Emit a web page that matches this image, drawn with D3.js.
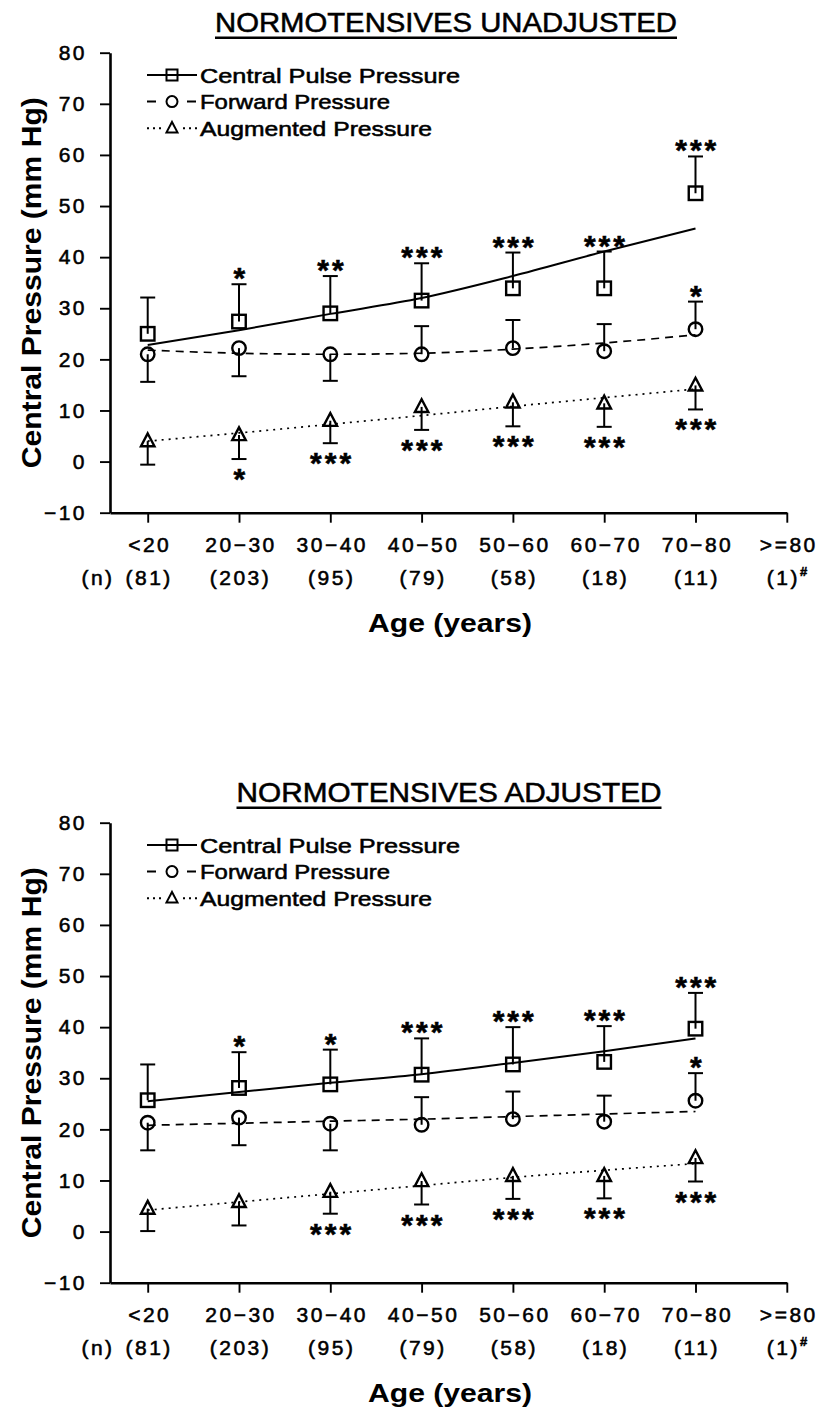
<!DOCTYPE html>
<html>
<head>
<meta charset="utf-8">
<script src="https://cdn.jsdelivr.net/npm/d3@7"></script>
<style>
  html, body { margin: 0; padding: 0; background: #fff; }
  svg { display: block; }
  text { font-family: "Liberation Sans", Arial, Helvetica, sans-serif; fill: #000; }
  .heavy { stroke: #000; stroke-width: 0.55px; }
</style>
</head>
<body>
<svg id="chart" width="818" height="1409"></svg>
<script>
// ---- categories and tick labels ----
const ageGroups = ["<20", "20\u221230", "30\u221240", "40\u221250", "50\u221260", "60\u221270", "70\u221280", ">=80"];
const groupN = ["81", "203", "95", "79", "58", "18", "11", "1"];
const yTickValues = [-10, 0, 10, 20, 30, 40, 50, 60, 70, 80];
const seriesNames = ["Central Pulse Pressure", "Forward Pressure", "Augmented Pressure"];
const panelTitles = ["NORMOTENSIVES UNADJUSTED", "NORMOTENSIVES ADJUSTED"];

// ---- unadjusted values (mm Hg), one per age group below 80 ----
const unadjCppMean = [25.0, 27.4, 29.0, 31.5, 33.9, 33.9, 52.5];
const unadjCppSD   = [7.1, 7.3, 7.3, 7.3, 7.0, 7.2, 7.2];
const unadjCppFit  = [22.8, 25.7, 28.9, 32.0, 36.3, 41.1, 45.6];
const unadjCppSig  = ["", "*", "**", "***", "***", "***", "***"];

const unadjFpMean = [21.0, 22.2, 21.0, 21.0, 22.2, 21.6, 25.9];
const unadjFpSD   = [5.4, 5.5, 5.2, 5.5, 5.5, 5.3, 5.4];
const unadjFpFit  = [21.8, 21.2, 21.0, 21.2, 22.0, 23.2, 24.8];
const unadjFpSig  = ["", "", "", "", "", "", "*"];

const unadjApMean = [4.0, 5.2, 8.0, 10.7, 11.6, 11.4, 14.9];
const unadjApSD   = [4.6, 4.7, 4.4, 4.5, 4.7, 4.6, 4.7];
const unadjApFit  = [4.0, 5.6, 7.3, 9.0, 10.8, 12.5, 14.2];
const unadjApSig  = ["", "*", "***", "***", "***", "***", "***"];

// ---- adjusted values (mm Hg) ----
const adjCppMean = [25.7, 28.1, 28.8, 30.7, 32.7, 33.2, 39.7];
const adjCppSD   = [7.0, 7.0, 6.8, 7.1, 7.3, 7.0, 7.0];
const adjCppFit  = [25.5, 27.3, 29.1, 30.8, 33.0, 35.3, 37.8];
const adjCppSig  = ["", "*", "*", "***", "***", "***", "***"];

const adjFpMean = [21.3, 22.3, 21.1, 20.9, 22.0, 21.5, 25.6];
const adjFpSD   = [5.4, 5.4, 5.2, 5.4, 5.4, 5.1, 5.4];
const adjFpFit  = [20.8, 21.2, 21.6, 22.0, 22.5, 23.0, 23.5];
const adjFpSig  = ["", "", "", "", "", "", "*"];

const adjApMean = [4.5, 5.8, 7.8, 9.9, 10.9, 10.9, 14.4];
const adjApSD   = [4.4, 4.6, 4.3, 4.6, 4.5, 4.4, 4.6];
const adjApFit  = [4.2, 5.8, 7.4, 9.0, 10.6, 12.0, 13.3];
const adjApSig  = ["", "", "***", "***", "***", "***", "***"];

// side of the mean on which each SD bar is drawn (+1 above, -1 below)
const cppBarSide = [1, 1, 1, 1, 1, 1, 1];
const fpBarSide  = [-1, -1, -1, 1, 1, 1, 1];
const apBarSide  = [-1, -1, -1, -1, -1, -1, -1];

// ---- drawing ----
const svg = d3.select("#chart");
svg.append("rect").attr("width", 818).attr("height", 1409).attr("fill", "#fff");

const markerStyles = [
  { shape: "square",   dash: null,  width: 2.0 },
  { shape: "circle",   dash: "8,6", width: 1.7 },
  { shape: "triangle", dash: "2,5", width: 1.7 }
];

function drawMarker(g, shape, cx, cy, s, sw) {
  if (shape === "square") {
    g.append("rect").attr("x", cx - s / 2).attr("y", cy - s / 2)
      .attr("width", s).attr("height", s)
      .attr("fill", "none").attr("stroke", "#000").attr("stroke-width", sw);
  } else if (shape === "circle") {
    g.append("circle").attr("cx", cx).attr("cy", cy).attr("r", s / 2)
      .attr("fill", "none").attr("stroke", "#000").attr("stroke-width", sw);
  } else {
    const h = s * 0.95;
    g.append("path")
      .attr("d", `M${cx},${cy - h * 0.6}L${cx + s / 2},${cy + h * 0.4}L${cx - s / 2},${cy + h * 0.4}Z`)
      .attr("fill", "none").attr("stroke", "#000").attr("stroke-width", sw)
      .attr("stroke-linejoin", "miter");
  }
}

function drawPanel(top, cfg) {
  const g = svg.append("g");
  const x = d3.scaleLinear().domain([-0.413, 7]).range([110, 786.8]);
  const y = d3.scaleLinear().domain([-10, 80]).range([top + 460, top]);

  // title with underline
  g.append("text").attr("class", "heavy")
    .attr("x", cfg.titleX).attr("y", top - 21)
    .attr("text-anchor", "middle")
    .attr("font-size", 28)
    .attr("textLength", cfg.titleW).attr("lengthAdjust", "spacingAndGlyphs")
    .text(cfg.title);
  g.append("line")
    .attr("x1", cfg.titleX - cfg.titleW / 2).attr("x2", cfg.titleX + cfg.titleW / 2)
    .attr("y1", top - 15).attr("y2", top - 15)
    .attr("stroke", "#000").attr("stroke-width", 2.4);

  // y axis
  const yAxis = g.append("g").attr("transform", "translate(110,0)")
    .call(d3.axisLeft(y).tickValues(yTickValues).tickSize(10).tickSizeOuter(0).tickPadding(13)
      .tickFormat(d => d3.format("d")(d)));
  yAxis.select(".domain").attr("stroke-width", 2.6);
  yAxis.selectAll(".tick line").attr("stroke-width", 1.9);
  yAxis.selectAll(".tick text").attr("class", "heavy")
    .attr("font-size", 21).attr("letter-spacing", 2.5)
    .attr("font-family", "Liberation Sans, Arial, sans-serif");

  // x axis
  const xAxis = g.append("g").attr("transform", `translate(0,${top + 460})`)
    .call(d3.axisBottom(x).tickValues(d3.range(8)).tickSize(10).tickSizeOuter(0).tickPadding(14)
      .tickFormat(i => ageGroups[i]));
  xAxis.select(".domain").attr("stroke-width", 2.6);
  xAxis.selectAll(".tick line").attr("stroke-width", 1.9);
  xAxis.selectAll(".tick text").attr("class", "heavy")
    .attr("font-size", 21).attr("letter-spacing", 2.5).attr("dx", 1.5)
    .attr("font-family", "Liberation Sans, Arial, sans-serif");

  // group sizes
  const nRow = g.append("g").attr("font-size", 21).attr("letter-spacing", 2.5);
  nRow.append("text").attr("class", "heavy").attr("x", 98).attr("y", top + 532)
    .attr("text-anchor", "middle").text("(n)");
  groupN.forEach((n, i) => {
    const t = nRow.append("text").attr("class", "heavy").attr("x", x(i) + 1.5).attr("y", top + 532)
      .attr("text-anchor", "middle");
    t.append("tspan").text(`(${n})`);
    if (i === groupN.length - 1) {
      t.append("tspan").attr("font-size", 13).attr("dy", -9).attr("font-weight", "bold").text("#");
    }
  });

  // axis titles
  g.append("text")
    .attr("x", 450).attr("y", top + 579)
    .attr("text-anchor", "middle").attr("font-weight", "bold").attr("font-size", 26)
    .attr("textLength", 164).attr("lengthAdjust", "spacingAndGlyphs")
    .text("Age (years)");
  g.append("text")
    .attr("transform", `translate(41,${top + 230}) rotate(-90)`)
    .attr("text-anchor", "middle").attr("font-weight", "bold").attr("font-size", 28)
    .attr("textLength", 371).attr("lengthAdjust", "spacingAndGlyphs")
    .text("Central Pressure (mm Hg)");

  // legend
  const lg = g.append("g");
  seriesNames.forEach((name, k) => {
    const cy = top + 22.3 + k * 26.6;
    const st = markerStyles[k];
    const ln = lg.append("line").attr("x1", 147).attr("x2", 197).attr("y1", cy).attr("y2", cy)
      .attr("stroke", "#000").attr("stroke-width", 2);
    if (k === 1) ln.attr("stroke-dasharray", "9,11");
    if (k === 2) ln.attr("stroke-dasharray", "2,4");
    if (k !== 0) {
      // clear the line behind the open marker
      lg.append("rect").attr("x", 164).attr("y", cy - 7).attr("width", 16).attr("height", 14).attr("fill", "#fff");
    }
    drawMarker(lg, st.shape, 172, cy, 11, 2);
    lg.append("text").attr("class", "heavy").attr("x", 200).attr("y", cy + 7.5)
      .attr("font-size", 21)
      .attr("textLength", cfg.legendW[k]).attr("lengthAdjust", "spacingAndGlyphs")
      .text(name);
  });

  const series = [
    { mean: cfg.cppMean, sd: cfg.cppSD, fit: cfg.cppFit, sig: cfg.cppSig, side: cppBarSide },
    { mean: cfg.fpMean,  sd: cfg.fpSD,  fit: cfg.fpFit,  sig: cfg.fpSig,  side: fpBarSide },
    { mean: cfg.apMean,  sd: cfg.apSD,  fit: cfg.apFit,  sig: cfg.apSig,  side: apBarSide }
  ];

  // fitted trend lines
  const line = d3.line().x((d, i) => x(i)).y(d => y(d)).curve(d3.curveMonotoneX);
  series.forEach((s, k) => {
    const p = g.append("path").attr("d", line(s.fit))
      .attr("fill", "none").attr("stroke", "#000")
      .attr("stroke-width", markerStyles[k].width);
    if (markerStyles[k].dash) p.attr("stroke-dasharray", markerStyles[k].dash);
  });

  // SD bars, markers and significance stars
  series.forEach((s, k) => {
    s.mean.forEach((m, i) => {
      const cx = x(i);
      const end = m + s.side[i] * s.sd[i];
      g.append("line").attr("x1", cx).attr("x2", cx)
        .attr("y1", y(m)).attr("y2", y(end))
        .attr("stroke", "#000").attr("stroke-width", 2);
      g.append("line").attr("x1", cx - 7.5).attr("x2", cx + 7.5)
        .attr("y1", y(end)).attr("y2", y(end))
        .attr("stroke", "#000").attr("stroke-width", 2);
      drawMarker(g, markerStyles[k].shape, cx, y(m), 13.5, 2.4);
      if (s.sig[i]) {
        const starCenter = y(end) - s.side[i] * 13;
        g.append("text").attr("class", "heavy")
          .attr("x", cx + 1.75).attr("y", starCenter + 17)
          .attr("text-anchor", "middle")
          .attr("font-size", 30).attr("font-weight", "bold").attr("letter-spacing", 3)
          .text(s.sig[i]);
      }
    });
  });
}

drawPanel(52.7, {
  title: panelTitles[0], titleX: 446, titleW: 462, legendW: [260, 190, 232],
  cppMean: unadjCppMean, cppSD: unadjCppSD, cppFit: unadjCppFit, cppSig: unadjCppSig,
  fpMean: unadjFpMean, fpSD: unadjFpSD, fpFit: unadjFpFit, fpSig: unadjFpSig,
  apMean: unadjApMean, apSD: unadjApSD, apFit: unadjApFit, apSig: unadjApSig
});
drawPanel(822.7, {
  title: panelTitles[1], titleX: 449, titleW: 425, legendW: [260, 190, 232],
  cppMean: adjCppMean, cppSD: adjCppSD, cppFit: adjCppFit, cppSig: adjCppSig,
  fpMean: adjFpMean, fpSD: adjFpSD, fpFit: adjFpFit, fpSig: adjFpSig,
  apMean: adjApMean, apSD: adjApSD, apFit: adjApFit, apSig: adjApSig
});
</script>
</body>
</html>
